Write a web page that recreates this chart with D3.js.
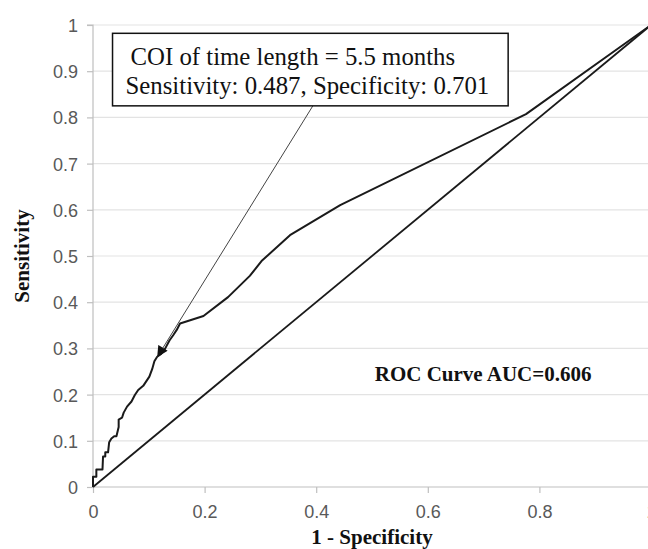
<!DOCTYPE html>
<html>
<head>
<meta charset="utf-8">
<script src="https://cdn.jsdelivr.net/npm/d3@7"></script>
<style>
  html, body { margin: 0; padding: 0; background: #fff; }
  svg { display: block; }
</style>
</head>
<body>
<div id="chart"></div>
<script>
// ---- Data ----
const fpr = [0, 0, 0.006, 0.006, 0.017, 0.018, 0.022, 0.022, 0.027, 0.029, 0.033, 0.038, 0.042, 0.046, 0.046, 0.052, 0.055, 0.061, 0.069, 0.075, 0.081, 0.090, 0.101, 0.106, 0.110, 0.115, 0.122, 0.129, 0.137, 0.144, 0.150, 0.156, 0.198, 0.242, 0.281, 0.302, 0.353, 0.443, 0.776, 1];
const tpr = [0, 0.022, 0.022, 0.038, 0.038, 0.066, 0.066, 0.075, 0.075, 0.097, 0.105, 0.110, 0.110, 0.130, 0.146, 0.150, 0.161, 0.174, 0.185, 0.199, 0.210, 0.219, 0.239, 0.255, 0.272, 0.282, 0.288, 0.299, 0.317, 0.329, 0.340, 0.354, 0.370, 0.411, 0.457, 0.489, 0.545, 0.610, 0.807, 1];
const refX = [0, 1];
const refY = [0, 1];
const xTicks = [0, 0.2, 0.4, 0.6, 0.8, 1];
const xTickLabels = ["0", "0.2", "0.4", "0.6", "0.8", "1"];
const yTicks = [0, 0.1, 0.2, 0.3, 0.4, 0.5, 0.6, 0.7, 0.8, 0.9, 1];
const yTickLabels = ["0", "0.1", "0.2", "0.3", "0.4", "0.5", "0.6", "0.7", "0.8", "0.9", "1"];
const xTitle = "1 - Specificity";
const yTitle = "Sensitivity";
const aucLabel = "ROC Curve AUC=0.606";
const annotLines = ["COI of time length = 5.5 months", "Sensitivity: 0.487, Specificity: 0.701"];
// annotation anchor points in data units
const annotBox = { x0: 0.035, x1: 0.744, y0: 0.825, y1: 0.982 };
const arrowFrom = { x: 0.394, y: 0.825 };
const arrowTo = { x: 0.115, y: 0.281 };
const aucPos = { x: 0.505, y: 0.23 };

// ---- Layout ----
const W = 648, H = 549;
const x0 = 93, x1 = 651, yB = 487, yT = 25;

const svg = d3.select("#chart").append("svg")
  .attr("width", W).attr("height", H)
  .attr("viewBox", `0 0 ${W} ${H}`);

const x = d3.scaleLinear().domain([0, 1]).range([x0, x1]);
const y = d3.scaleLinear().domain([0, 1]).range([yB, yT]);

// gridlines
svg.append("g").selectAll("line").data(yTicks.filter(d => d > 0)).join("line")
  .attr("x1", x0).attr("x2", x1)
  .attr("y1", d => y(d)).attr("y2", d => y(d))
  .attr("stroke", "#e3e3e3").attr("stroke-width", 1.2);

// axes
const yAxis = d3.axisLeft(y).tickValues(yTicks).tickSize(6)
  .tickFormat((d, i) => yTickLabels[i]);
const gy = svg.append("g").attr("transform", `translate(${x0},0)`).call(yAxis);
gy.select(".domain").attr("stroke", "#bfbfbf").attr("stroke-width", 1.2).attr("d", `M-6,${yT}H0V${yB}`);
gy.selectAll(".tick line").attr("stroke", "#bfbfbf").attr("stroke-width", 1.2);
gy.selectAll(".tick text")
  .attr("x", -15).attr("dy", "0.36em")
  .attr("fill", "#595959")
  .style("font-family", "'Liberation Sans', Arial, sans-serif")
  .style("font-size", "18px");

const xAxis = d3.axisBottom(x).tickValues(xTicks).tickSize(6)
  .tickFormat((d, i) => xTickLabels[i]);
const gx = svg.append("g").attr("transform", `translate(0,${yB})`).call(xAxis);
gx.select(".domain").attr("stroke", "#bfbfbf").attr("stroke-width", 1.2).attr("d", `M${x0},0H${x1}`);
gx.selectAll(".tick line").attr("stroke", "#bfbfbf").attr("stroke-width", 1.2);
gx.selectAll(".tick text")
  .attr("y", 31).attr("dy", 0)
  .attr("fill", "#595959")
  .style("font-family", "'Liberation Sans', Arial, sans-serif")
  .style("font-size", "18px");

// reference diagonal
const line = d3.line().x(d => x(d[0])).y(d => y(d[1]));
svg.append("path")
  .datum(refX.map((v, i) => [v, refY[i]]))
  .attr("d", line)
  .attr("fill", "none").attr("stroke", "#1a1a1a").attr("stroke-width", 1.8);

// ROC curve
svg.append("path")
  .datum(fpr.map((v, i) => [v, tpr[i]]))
  .attr("d", line)
  .attr("fill", "none").attr("stroke", "#1a1a1a").attr("stroke-width", 2)
  .attr("stroke-linejoin", "round");

// arrow
const defs = svg.append("defs");
defs.append("marker").attr("id", "arr")
  .attr("viewBox", "0 0 10 10").attr("refX", 10).attr("refY", 5)
  .attr("markerWidth", 13).attr("markerHeight", 11)
  .attr("markerUnits", "userSpaceOnUse")
  .attr("orient", "auto")
  .append("path").attr("d", "M0,0L10,5L0,10Z").attr("fill", "#111");

svg.append("line")
  .attr("x1", x(arrowFrom.x)).attr("y1", y(arrowFrom.y))
  .attr("x2", x(arrowTo.x)).attr("y2", y(arrowTo.y))
  .attr("stroke", "#444").attr("stroke-width", 1)
  .attr("marker-end", "url(#arr)");

// annotation box
svg.append("rect")
  .attr("x", x(annotBox.x0)).attr("y", y(annotBox.y1))
  .attr("width", x(annotBox.x1) - x(annotBox.x0))
  .attr("height", y(annotBox.y0) - y(annotBox.y1))
  .attr("fill", "#fff").attr("stroke", "#111").attr("stroke-width", 1.5);

const serif = "'Liberation Serif', 'Times New Roman', serif";
svg.append("text")
  .attr("x", x(annotBox.x0) + 18).attr("y", y(annotBox.y1) + 32)
  .style("font-family", serif).style("font-size", "24.8px").attr("fill", "#111")
  .text(annotLines[0]);
svg.append("text")
  .attr("x", x(annotBox.x0) + 13).attr("y", y(annotBox.y1) + 61)
  .style("font-family", serif).style("font-size", "24.8px").attr("fill", "#111")
  .text(annotLines[1]);

// AUC label
svg.append("text")
  .attr("x", x(aucPos.x)).attr("y", y(aucPos.y) + 0)
  .style("font-family", serif).style("font-size", "21px").style("font-weight", "bold")
  .attr("fill", "#111")
  .text(aucLabel);

// axis titles
svg.append("text")
  .attr("x", 372).attr("y", 544)
  .attr("text-anchor", "middle")
  .style("font-family", serif).style("font-size", "21px").style("font-weight", "bold")
  .attr("fill", "#111")
  .text(xTitle);
svg.append("text")
  .attr("transform", "translate(29,256) rotate(-90)")
  .attr("text-anchor", "middle")
  .style("font-family", serif).style("font-size", "21px").style("font-weight", "bold")
  .attr("fill", "#111")
  .text(yTitle);
</script>
</body>
</html>
